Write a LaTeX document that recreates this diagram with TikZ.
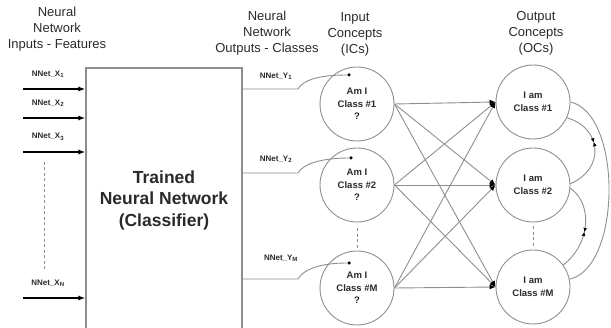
\documentclass[tikz,border=0pt]{standalone}
\usepackage{fontspec}
\setmainfont{Liberation Sans}
\usetikzlibrary{arrows.meta,decorations.markings,positioning}
\definecolor{LineGray}{HTML}{8E8E8E}
\definecolor{TextDark}{HTML}{2A2A2A}

\begin{document}
\begin{tikzpicture}[x=1pt,y=-1pt,
  title/.style={align=center,text=TextDark,font=\fontsize{13}{16}\selectfont},
  icircle/.style={circle,draw=LineGray,line width=0.9pt,minimum size=74pt,inner sep=0pt,align=center,text=TextDark,font=\bfseries\fontsize{9.5}{12.5}\selectfont},
  tag/.style={text=TextDark,font=\bfseries\fontsize{8}{9}\selectfont},
  feed/.style={-{Latex[length=7pt,width=5pt]},line width=1.3pt},
  link/.style={LineGray,line width=0.9pt},
  wire/.style={link,-{Latex[length=6pt,width=5pt,color=black]}},
  gapline/.style={LineGray,line width=0.8pt,dash pattern=on 3pt off 2.5pt},
  dot/.style={circle,fill=black,inner sep=0pt,minimum size=3.5pt},
  loopback/.style={link,postaction={decorate},decoration={markings,
    mark=at position #1 with {\arrow{Latex[length=4pt,width=4pt,color=black]}\arrowreversed{Latex[length=4pt,width=4pt,color=black]}}}}]
  \useasboundingbox (0,0) rectangle (611,328);

  \node[title] (tin) at (57,29) {Neural\\Network\\Inputs - Features};
  \node[title] (tout) at (267,33) {Neural\\Network\\Outputs - Classes};
  \node[title] (tic) at (355,34) {Input\\Concepts\\(ICs)};
  \node[title] (toc) at (536,33) {Output\\Concepts\\(OCs)};

  \node[draw=LineGray,line width=1.1pt,minimum width=156pt,minimum height=264pt,align=center,text=TextDark,
    font=\bfseries\fontsize{17.5}{21.5}\selectfont] (net) at (164,200) {Trained\\Neural Network\\(Classifier)};

  % inputs - features
  \foreach \n/\y/\s in {1/89/1,2/118/2,3/152/3,n/298/N} {
    \coordinate (x\n) at (23,\y);
    \draw[feed] (x\n) -- (x\n -| net.west);
    \node[tag] (lx\n) at (48,\y-15) {NNet\_X\textsubscript{\s}};
  }
  \draw[gapline] (44,162) -- (44,270);

  \node[icircle] (ic1) at (357,104) {Am I\\Class \#1\\?};
  \node[icircle] (ic2) at (357,185) {Am I\\Class \#2\\?};
  \node[icircle] (icm) at (357,288) {Am I\\Class \#M\\?};
  \node[icircle] (oc1) at (533,102) {I am\\Class \#1};
  \node[icircle] (oc2) at (533,185) {I am\\Class \#2};
  \node[icircle] (ocm) at (533,287) {I am\\Class \#M};
  \draw[gapline] ([yshift=-6pt]ic2.south) -- ([yshift=1pt]icm.north);
  \draw[gapline] ([yshift=-4pt]oc2.south) -- ([yshift=3pt]ocm.north);

  % outputs - classes
  \foreach \n/\y/\s/\dx/\dy/\lx/\ly in {1/89/1/349/75/276/76,2/173/2/351/158/276/159,m/279/M/349/263/281/258} {
    \coordinate (y\n) at (298,\y);
    \node[dot] (d\n) at (\dx,\dy) {};
    \draw[link] (y\n -| net.east) -- (y\n) .. controls +(5,-9) and +(-30,0) .. (d\n);
    \node[tag] (ly\n) at (\lx,\ly) {NNet\_Y\textsubscript{\s}};
  }

  \foreach \a in {ic1,ic2,icm}
    \foreach \b in {oc1,oc2,ocm}
      \draw[wire] (\a.east) -- (\b.west);

  \draw[loopback=0.42] (oc1.-25) .. controls +(35,10) and +(35,-15) .. (oc2.2);
  \draw[loopback=0.55] (oc2.-5) .. controls +(22,15) and +(28,-22) .. (ocm.36);
  \draw[link] (oc1.east) .. controls +(52,12) and +(52,-12) .. (ocm.12);
\end{tikzpicture}
\end{document}
